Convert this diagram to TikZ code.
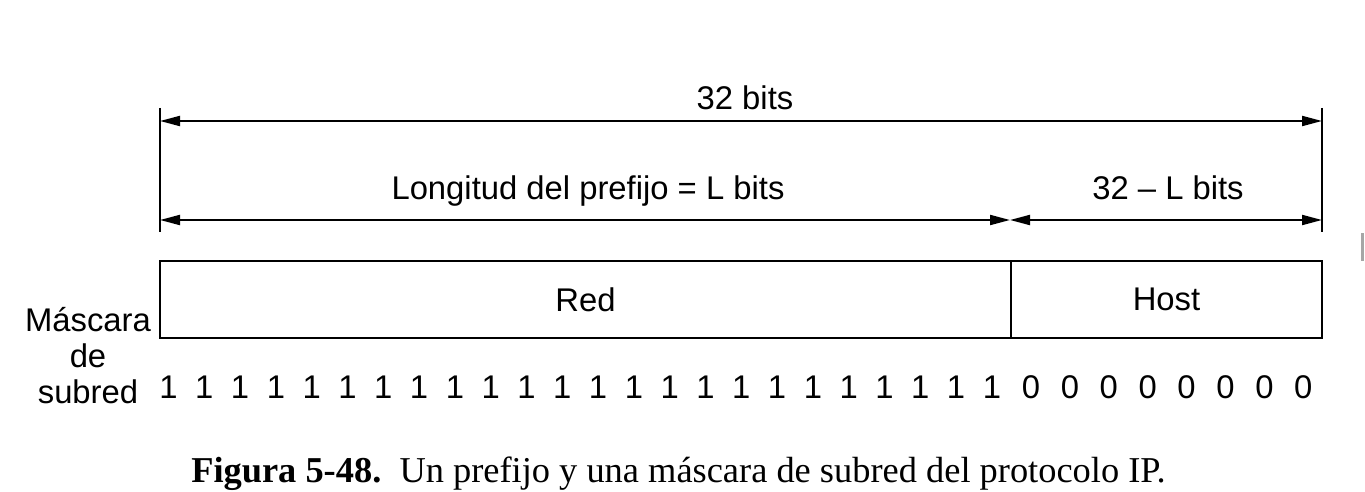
\documentclass[tikz,border=0pt]{standalone}
\usepackage{fontspec}
\setmainfont{Liberation Sans}
\newfontfamily\captionfont{Liberation Serif}
\usetikzlibrary{arrows.meta}
\tikzset{
    dim-line/.style = {line width=1pt, {Triangle[length=10pt, width=5pt]}-{Triangle[length=10pt, width=5pt]}},
    tick-line/.style = {line width=1pt},
    field-box/.style = {draw, line width=0.8pt, rectangle, inner sep=0pt, minimum height=38.5pt, font=\fontsize{16.4}{18}\selectfont},
    label-text/.style = {inner sep=0pt, anchor=base, font=\fontsize{16.4}{18}\selectfont},
    bit-digit/.style = {inner sep=0pt, anchor=base, font=\fontsize{16.4}{18}\selectfont},
}

\begin{document}
\begin{tikzpicture}[x=0.5pt, y=-0.5pt]
\useasboundingbox (0,0) rectangle (1365,492);
% tick marks at both ends
\coordinate (left-top) at (160,108);
\coordinate (left-bot) at (160,232);
\coordinate (right-top) at (1322,108);
\coordinate (right-bot) at (1322,232);
\coordinate (split) at (1010,220);
\draw[tick-line] (left-top) -- (left-bot);
\draw[tick-line] (right-top) -- (right-bot);

% dimension arrows
\draw[dim-line] (left-top |- 0,121) -- (right-top |- 0,121);
\draw[dim-line] (left-top |- split) -- (split);
\draw[dim-line] (split) -- (right-top |- split);
\node[label-text] (all-bits) at (745,110) {32 bits};
\node[label-text] (prefix-len) at (588,199) {Longitud del prefijo = L bits};
\node[label-text] (host-len) at (1168,199) {32 – L bits};

% the address fields
\node[field-box, minimum width=425.5pt] (red) at (585.5,299.5) {Red};
\node[field-box, minimum width=155.5pt] (host) at (1166.5,299.5) {Host};
\node[align=center, inner sep=0pt, font=\fontsize{16.4}{18}\selectfont] (mask-label) at (88,356) {Máscara\\de\\subred};

% mask bits
\foreach \i in {0,...,23}
    \node[bit-digit] (one-\i) at (168.5+35.8*\i,398) {1};
\foreach \i in {0,...,7}
    \node[bit-digit] (zero-\i) at (1031+38.9*\i,398) {0};

\draw[gray!70, line width=1.5pt] (1362.5,233) -- (1362.5,261);

\node[inner sep=0pt, anchor=base, font=\captionfont\fontsize{18.2}{20}\selectfont] (caption) at (678.5,482) {\textbf{Figura 5-48.}\ \ Un prefijo y una máscara de subred del protocolo IP.};
\end{tikzpicture}
\end{document}
